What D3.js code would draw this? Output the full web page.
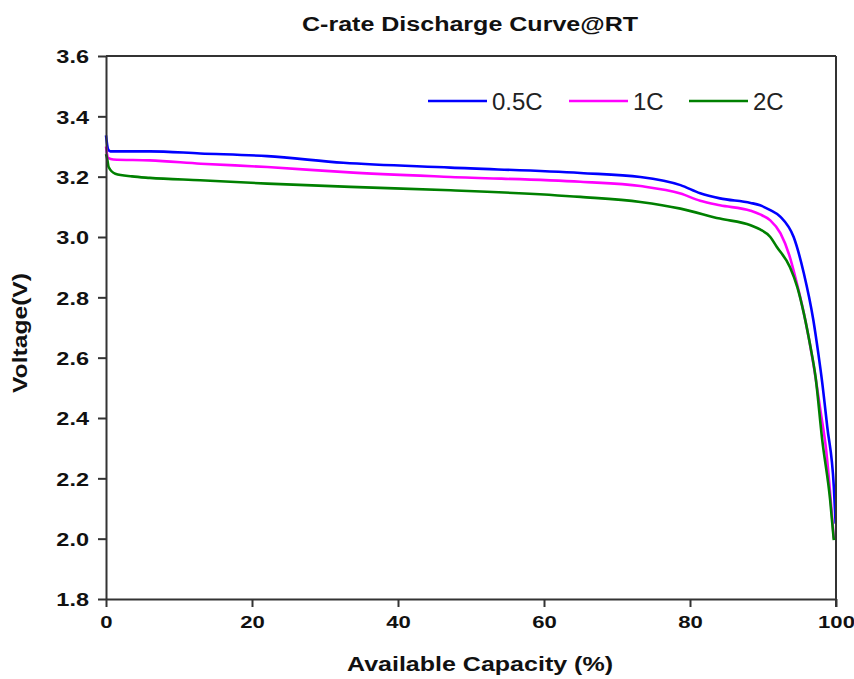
<!DOCTYPE html>
<html>
<head>
<meta charset="utf-8">
<script src="https://cdn.jsdelivr.net/npm/d3@7"></script>
<style>
  body { margin: 0; background: #fff; }
  text { font-family: "Liberation Sans", Arial, sans-serif; }
</style>
</head>
<body>
<script>
// capacity (%) / voltage (V)
var cap05 = [0, 0.3, 0.6, 6, 12.9, 22.1, 32.5, 47.2, 65, 73.2, 78.7, 81.4, 84.1, 88.3, 89.6, 91.0, 92.4, 94.2, 95.6, 96.9, 97.6, 98.1, 98.8, 99.7, 99.95];
var volt05 = [3.337, 3.29, 3.284, 3.284, 3.277, 3.268, 3.246, 3.23, 3.212, 3.199, 3.172, 3.145, 3.128, 3.113, 3.105, 3.089, 3.067, 3.0, 2.879, 2.724, 2.61, 2.52, 2.371, 2.172, 2.05];

var cap1 = [0, 0.3, 1, 6, 13, 22.1, 32.8, 47.2, 65, 73.2, 78.7, 81.4, 84.1, 88.3, 89.6, 91.0, 92.4, 93.6, 94.5, 95.8, 96.9, 97.9, 98.6, 99.7];
var volt1 = [3.30, 3.262, 3.257, 3.254, 3.243, 3.232, 3.215, 3.199, 3.183, 3.169, 3.144, 3.12, 3.105, 3.087, 3.075, 3.055, 3.012, 2.94, 2.86, 2.724, 2.58, 2.42, 2.305, 2.0];

var cap2 = [0, 0.14, 0.36, 1.27, 3.56, 6, 12.9, 22.1, 33.5, 47.2, 65, 73.2, 78.7, 84.1, 88.3, 89.6, 91.0, 91.9, 93.7, 94.7, 95.6, 96.5, 97.2, 98.1, 99.2, 99.7];
var volt2 = [3.275, 3.262, 3.232, 3.21, 3.201, 3.196, 3.188, 3.177, 3.166, 3.155, 3.133, 3.116, 3.094, 3.061, 3.039, 3.025, 3.0, 2.967, 2.90, 2.834, 2.746, 2.636, 2.536, 2.33, 2.128, 1.995];

var seriesNames = ["0.5C", "1C", "2C"];
var seriesColors = ["#0000ff", "#ff00ff", "#008000"];
var xTicks = [0, 20, 40, 60, 80, 100];
var yTicks = [1.8, 2.0, 2.2, 2.4, 2.6, 2.8, 3.0, 3.2, 3.4, 3.6];

var caps = [cap05, cap1, cap2],
    volts = [volt05, volt1, volt2];

var W = 854, H = 679,
    m = { top: 56, right: 18, bot: 80, left: 106 },
    w = W - m.left - m.right,
    h = H - m.top - m.bot;

var svg = d3.select("body").append("svg")
  .attr("width", W)
  .attr("height", H);

// the source text is drawn a little wide, stretch it to match
function stretch(sel, f) {
  sel.each(function(){
    var len = this.getComputedTextLength();
    d3.select(this).attr("textLength", len * f).attr("lengthAdjust", "spacingAndGlyphs");
  });
}

var x = d3.scaleLinear().domain([0, 100]).range([0, w]),
    y = d3.scaleLinear().domain([1.8, 3.6]).range([h, 0]);

var g = svg.append("g")
  .attr("transform", "translate(" + m.left + "," + m.top + ")");

// curves
var line = d3.line()
  .x(function(d){ return x(d[0]); })
  .y(function(d){ return y(d[1]); })
  .curve(d3.curveMonotoneX);

seriesNames.forEach(function(name, i){
  var pts = caps[i].map(function(c, j){ return [c, volts[i][j]]; });
  g.append("path")
    .datum(pts)
    .attr("fill", "none")
    .attr("stroke", seriesColors[i])
    .attr("stroke-width", 2.6)
    .attr("stroke-linejoin", "round")
    .attr("d", line);
});

// axes
var xAxis = d3.axisBottom(x).tickValues(xTicks).tickSize(8).tickSizeOuter(0).tickFormat(d3.format("d"));
var yAxis = d3.axisLeft(y).tickValues(yTicks).tickSize(8).tickSizeOuter(0).tickFormat(d3.format(".1f"));

var gx = g.append("g")
  .attr("transform", "translate(0," + h + ")")
  .call(xAxis);
var gy = g.append("g").call(yAxis);

[gx, gy].forEach(function(a){
  a.select(".domain").attr("stroke", "#333").attr("stroke-width", 2);
  a.selectAll(".tick line").attr("stroke", "#333").attr("stroke-width", 2);
  a.selectAll(".tick text")
    .attr("fill", "#111")
    .style("font-weight", "bold");
});
gx.selectAll(".tick text").style("font-size", "17px").attr("y", 14).attr("dy", "0.9em");
gy.selectAll(".tick text").style("font-size", "18.5px").attr("x", -17).attr("dy", "0.36em");
stretch(gx.selectAll(".tick text"), 1.3);
stretch(gy.selectAll(".tick text"), 1.27);

// frame top and right
g.append("line")
  .attr("x1", 0).attr("x2", w).attr("y1", 0).attr("y2", 0)
  .attr("stroke", "#333").attr("stroke-width", 2);
g.append("line")
  .attr("x1", w).attr("x2", w).attr("y1", 0).attr("y2", h + 8)
  .attr("stroke", "#333").attr("stroke-width", 2);

// titles
svg.append("text")
  .attr("x", 470).attr("y", 31)
  .attr("text-anchor", "middle")
  .style("font-size", "20px").style("font-weight", "bold")
  .attr("fill", "#111")
  .attr("textLength", 336).attr("lengthAdjust", "spacingAndGlyphs")
  .text("C-rate Discharge Curve@RT");

svg.append("text")
  .attr("x", 480).attr("y", 671)
  .attr("text-anchor", "middle")
  .style("font-size", "21px").style("font-weight", "bold")
  .attr("fill", "#111")
  .attr("textLength", 266).attr("lengthAdjust", "spacingAndGlyphs")
  .text("Available Capacity (%)");

svg.append("text")
  .attr("transform", "translate(27,333) rotate(-90)")
  .attr("text-anchor", "middle")
  .style("font-size", "21px").style("font-weight", "bold")
  .attr("fill", "#111")
  .attr("textLength", 120).attr("lengthAdjust", "spacingAndGlyphs")
  .text("Voltage(V)");

// legend
var legX = [428, 569, 689];
var leg = svg.append("g");
seriesNames.forEach(function(name, i){
  leg.append("line")
    .attr("x1", legX[i]).attr("x2", legX[i] + 59)
    .attr("y1", 101).attr("y2", 101)
    .attr("stroke", seriesColors[i]).attr("stroke-width", 2.6);
  leg.append("text")
    .attr("x", legX[i] + 64).attr("y", 110)
    .style("font-size", "24px")
    .attr("fill", "#222")
    .text(name);
});
</script>
</body>
</html>
